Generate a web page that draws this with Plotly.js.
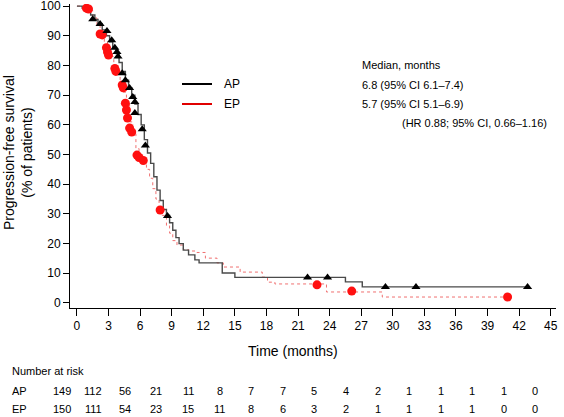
<!DOCTYPE html>
<html><head><meta charset="utf-8">
<script src="https://cdn.plot.ly/plotly-3.0.1.min.js"></script>
<style>body{margin:0;background:#fff}</style></head>
<body><div id="c" style="width:564px;height:417px"></div>
<script>
// Kaplan-Meier step data (months, % progression-free)
const apTime = [0, 0.5, 1.0, 1.3, 1.7, 2.0, 2.4, 2.8, 3.1, 3.4, 3.7, 4.0, 4.3, 4.6, 4.9, 5.2, 5.5, 5.8, 6.1, 6.4, 6.7, 7.0, 7.3, 7.6, 7.9, 8.2, 8.5, 8.8, 9.1, 9.4, 9.7, 10.1, 10.6, 11.2, 11.6, 13.8, 15.0, 25.5, 27.1, 43.0];
const apSurv = [100, 99.3, 98, 97, 95.5, 94, 92, 90, 88, 86, 84, 81, 78, 75, 72.5, 70, 67, 63.5, 60, 55, 50.5, 47, 42.5, 38, 34.5, 31.5, 29.5, 27, 24.5, 22, 20, 17.8, 16.2, 14.5, 13.5, 10.1, 8.6, 7.1, 5.4, 5.4];
const epTime = [0, 0.6, 1.0, 1.5, 1.9, 2.2, 2.6, 2.9, 3.2, 3.5, 3.8, 4.1, 4.4, 4.7, 5.0, 5.3, 5.6, 5.9, 6.3, 6.6, 6.9, 7.2, 7.5, 7.8, 8.1, 8.5, 8.8, 9.1, 9.5, 10.1, 10.6, 11.4, 12.2, 13.3, 13.9, 15.5, 17.6, 18.1, 18.8, 23.7, 29.0, 40.9];
const epSurv = [100, 99.3, 98.5, 96, 93.5, 91, 88, 85.5, 83, 80, 77, 74, 71, 67, 61, 57, 52, 49, 47.5, 45, 42, 38.5, 35, 32, 29.5, 26, 23.5, 21, 19.5, 18, 17.5, 17, 15.1, 13.5, 12.1, 10.4, 8.7, 7.0, 6.4, 3.7, 2.0, 2.0];
// Censoring marks
const apCensT = [1.5, 2.2, 2.85, 3.3, 3.6, 3.8, 3.9, 4.3, 4.6, 5.0, 5.3, 5.5, 5.5, 6.2, 6.5, 8.6, 21.9, 23.8, 29.3, 32.2, 42.8];
const apCensS = [95.6, 94, 91.6, 88.5, 86, 84.5, 83, 77.4, 75, 72.4, 69.4, 67.7, 64, 58.5, 53, 29.3, 8.6, 8.6, 5.4, 5.4, 5.4];
const epCensT = [0.9, 1.1, 2.2, 2.4, 2.8, 2.9, 3.0, 3.6, 3.7, 4.3, 4.4, 4.6, 4.7, 4.8, 5.0, 5.2, 5.7, 5.9, 6.3, 7.9, 22.8, 26.1, 40.9];
const epCensS = [99.3, 99, 90.6, 90.3, 86, 84.5, 83.5, 79, 78, 73.4, 72.5, 67.3, 65, 62.3, 58.9, 57.6, 49.8, 49, 48, 31.3, 6.1, 4.0, 2.0];
// Number at risk
const riskTimes = [0, 3, 6, 9, 12, 15, 18, 21, 24, 27, 30, 33, 36, 39, 42, 45];
const riskAP = [149, 112, 56, 21, 11, 8, 7, 7, 5, 4, 2, 1, 1, 1, 1, 0];
const riskEP = [150, 111, 54, 23, 15, 11, 8, 6, 3, 2, 1, 1, 1, 1, 0, 0];
const xTicks = [0, 3, 6, 9, 12, 15, 18, 21, 24, 27, 30, 33, 36, 39, 42, 45];
const yTicks = [0, 10, 20, 30, 40, 50, 60, 70, 80, 90, 100];

const FONT = 'Liberation Sans, Arial, sans-serif';
const L = 70, T = 4, W = 486, H = 304;
const XR = [-0.66, 45.5];
const px = x => (x - L) / W;
const py = y => (T + H - y) / H;
const tx = t => (t - XR[0]) / (XR[1] - XR[0]);

const traces = [
  {x: epTime, y: epSurv, mode: 'lines', line: {shape: 'hv', color: '#f07070', width: 1, dash: 'dot'}, hoverinfo: 'skip'},
  {x: apTime, y: apSurv, mode: 'lines', line: {shape: 'hv', color: '#4a4a4a', width: 1.4}, hoverinfo: 'skip'},
  {x: epCensT, y: epCensS, mode: 'markers', marker: {symbol: 'circle', size: 9, color: '#ff1010'}},
  {x: apCensT, y: apCensS, mode: 'markers', marker: {symbol: 'triangle-up', size: 8, color: '#000'}}
];

const ann = [];
const txt = (xp, y, text, size, anchor) => ann.push({x: xp, y: py(y), xref: 'paper', yref: 'paper', text: text, showarrow: false, xanchor: anchor || 'left', yanchor: 'middle', font: {family: FONT, size: size, color: '#000'}});
txt(px(222), 84, 'AP', 12);
txt(px(222), 104, 'EP', 12);
txt(px(360), 65, 'Median, months', 11);
txt(px(360), 85, '6.8 (95% CI 6.1–7.4)', 11);
txt(px(360), 104, '5.7 (95% CI 5.1–6.9)', 11);
txt(px(400), 123, '(HR 0.88; 95% CI, 0.66–1.16)', 11);
txt(px(293), 351, 'Time (months)', 14, 'center');
txt(px(10), 371, 'Number at risk', 11);
txt(px(10), 391, 'AP', 11);
txt(px(10), 409, 'EP', 11);
riskTimes.forEach((t, i) => {
  txt(tx(t - 1.45), 391, String(riskAP[i]), 11, 'center');
  txt(tx(t - 1.45), 409, String(riskEP[i]), 11, 'center');
});
ann.push({x: px(18), y: py(153), xref: 'paper', yref: 'paper', text: 'Progression-free survival<br>(% of patients)', showarrow: false, textangle: -90, xanchor: 'center', yanchor: 'middle', font: {family: FONT, size: 14, color: '#000'}});

const shapes = [
  {type: 'line', xref: 'paper', yref: 'paper', x0: px(182), x1: px(212), y0: py(84), y1: py(84), line: {color: '#000', width: 2}},
  {type: 'line', xref: 'paper', yref: 'paper', x0: px(182), x1: px(212), y0: py(104), y1: py(104), line: {color: '#e00000', width: 2}}
];

const layout = {
  width: 564, height: 417,
  margin: {l: L, r: 564 - L - W, t: T, b: 417 - T - H},
  paper_bgcolor: '#fff', plot_bgcolor: '#fff',
  showlegend: false,
  font: {family: FONT, size: 12, color: '#000'},
  xaxis: {range: XR, tickvals: xTicks, ticks: 'outside', ticklen: 7, tickwidth: 1, tickcolor: '#000',
          showline: true, linecolor: '#000', linewidth: 1, showgrid: false, zeroline: false,
          ticklabeloverflow: 'allow', tickfont: {family: FONT, size: 12, color: '#000'}},
  yaxis: {range: [-1.7, 100.7], tickvals: yTicks, ticks: 'outside', ticklen: 6, tickwidth: 1, tickcolor: '#000',
          showline: true, linecolor: '#000', linewidth: 1, showgrid: false, zeroline: false,
          ticklabeloverflow: 'allow', tickfont: {family: FONT, size: 12, color: '#000'}},
  annotations: ann,
  shapes: shapes
};
Plotly.newPlot('c', traces, layout, {staticPlot: true, displayModeBar: false});
</script></body></html>
